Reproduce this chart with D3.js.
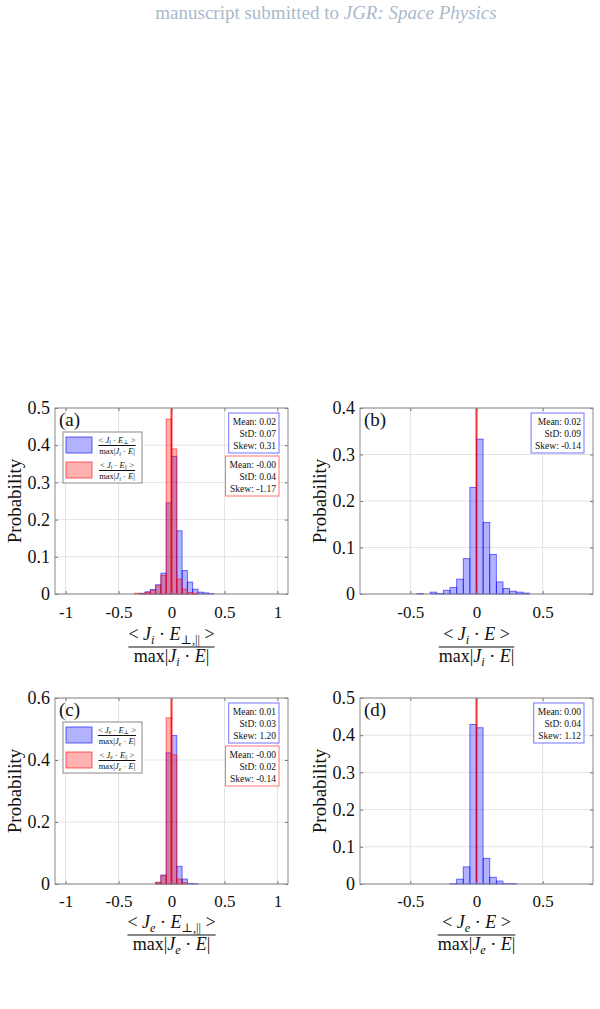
<!DOCTYPE html>
<html>
<head>
<meta charset="utf-8">
<script src="https://cdn.jsdelivr.net/npm/d3@7"></script>
<style>
  body { margin: 0; background: #fff; }
  svg text { font-family: "Liberation Serif", "DejaVu Serif", serif; fill: #111; }
</style>
</head>
<body>
<svg id="chart" width="600" height="1009"></svg>
<script>
// left edges of the histogram bins (bin width 0.05)
const binStarts = [-0.45, -0.40, -0.35, -0.30, -0.25, -0.20, -0.15, -0.10, -0.05, 0.00, 0.05, 0.10, 0.15, 0.20, 0.25, 0.30, 0.35]
const binWidth = 0.05

// probabilities
const ionPerp = [0, 0, 0, 0.002, 0.006, 0.012, 0.025, 0.056, 0.245, 0.370, 0.170, 0.063, 0.032, 0.013, 0.005, 0.003, 0.001]
const ionPar  = [0, 0, 0.002, 0.001, 0.004, 0.010, 0.022, 0.050, 0.470, 0.390, 0.040, 0.013, 0.004, 0.002, 0, 0, 0]
const ionTot  = [0.001, 0, 0.004, 0.001, 0.008, 0.014, 0.032, 0.076, 0.229, 0.333, 0.154, 0.085, 0.026, 0.012, 0.006, 0.004, 0.002]
const elePerp = [0, 0, 0, 0, 0, 0, 0.004, 0.029, 0.423, 0.479, 0.057, 0.016, 0.002, 0.001, 0, 0, 0]
const elePar  = [0, 0, 0, 0, 0, 0, 0.006, 0.027, 0.536, 0.417, 0.016, 0.004, 0, 0, 0, 0, 0]
const eleTot  = [0, 0, 0, 0, 0, 0.001, 0.013, 0.046, 0.429, 0.420, 0.069, 0.018, 0.008, 0.001, 0.001, 0, 0]

// stats text boxes
const statsIonPerp = ['Mean: 0.02', 'StD: 0.07', 'Skew: 0.31']
const statsIonPar  = ['Mean: -0.00', 'StD: 0.04', 'Skew: -1.17']
const statsIonTot  = ['Mean: 0.02', 'StD: 0.09', 'Skew: -0.14']
const statsElePerp = ['Mean: 0.01', 'StD: 0.03', 'Skew: 1.20']
const statsElePar  = ['Mean: -0.00', 'StD: 0.02', 'Skew: -0.14']
const statsEleTot  = ['Mean: 0.00', 'StD: 0.04', 'Skew: 1.12']

// tick labels
const xTicksWide = [-1, -0.5, 0, 0.5, 1]
const xTicksNarrow = [-0.5, 0, 0.5]
const yTicksA = [0, 0.1, 0.2, 0.3, 0.4, 0.5]
const yTicksB = [0, 0.1, 0.2, 0.3, 0.4]
const yTicksC = [0, 0.2, 0.4, 0.6]
const yTicksD = [0, 0.1, 0.2, 0.3, 0.4, 0.5]

const BLUE = '#0000ff', RED = '#ff0000'

// pieces of the math labels: [text, italic, subscript]
const frac = (s, lab) => ({
  num: [['< '], ['J', 1], [s, 1, 1], [' · '], ['E', 1], [lab, 0, 1], [' >']],
  den: [['max|'], ['J', 1], [s, 1, 1], [' · '], ['E', 1], ['|']]
})

const panels = [
  { tag: '(a)', x0: 55, y0: 408, xDom: [-1.1, 1.1], xTicks: xTicksWide, yTicks: yTicksA,
    series: [{ v: ionPerp, c: BLUE, stats: statsIonPerp }, { v: ionPar, c: RED, stats: statsIonPar }],
    xlabel: frac('i', '⊥,||'), legend: [frac('i', '⊥'), frac('i', '||')] },
  { tag: '(b)', x0: 360, y0: 408, xDom: [-0.88, 0.88], xTicks: xTicksNarrow, yTicks: yTicksB,
    series: [{ v: ionTot, c: BLUE, stats: statsIonTot }],
    xlabel: { num: [['< '], ['J', 1], ['i', 1, 1], [' · '], ['E', 1], [' >']], den: frac('i', '').den } },
  { tag: '(c)', x0: 55, y0: 698, xDom: [-1.1, 1.1], xTicks: xTicksWide, yTicks: yTicksC,
    series: [{ v: elePerp, c: BLUE, stats: statsElePerp }, { v: elePar, c: RED, stats: statsElePar }],
    xlabel: frac('e', '⊥,||'), legend: [frac('e', '⊥'), frac('e', '||')] },
  { tag: '(d)', x0: 360, y0: 698, xDom: [-0.88, 0.88], xTicks: xTicksNarrow, yTicks: yTicksD,
    series: [{ v: eleTot, c: BLUE, stats: statsEleTot }],
    xlabel: { num: [['< '], ['J', 1], ['e', 1, 1], [' · '], ['E', 1], [' >']], den: frac('e', '').den } }
]

const W = 233, H = 186

const svg = d3.select('#chart')

// page header
const head = svg.append('text')
  .attr('x', 326).attr('y', 19)
  .attr('text-anchor', 'middle')
  .style('font-size', '19px')
  .style('fill', '#a8bacb')
head.append('tspan').text('manuscript submitted to ').style('fill', '#a8bacb')
head.append('tspan').text('JGR: Space Physics').style('font-style', 'italic').style('fill', '#a8bacb')

// writes a math string (array of pieces) into a text element
function mathText(sel, parts, size) {
  let shifted = 0
  parts.forEach(p => {
    if (!p[0]) return
    const sub = !!p[2]
    const ts = sel.append('tspan').text(p[0])
    if (p[1]) ts.style('font-style', 'italic')
    const target = sub ? size * 0.2 : 0
    ts.attr('dy', target - shifted)
    shifted = target
    if (sub) ts.style('font-size', (size * 0.68) + 'px')
  })
}

function fraction(g, lab, size, gapTop, gapBot) {
  const num = g.append('text').attr('text-anchor', 'middle').attr('y', -gapTop).style('font-size', size + 'px')
  mathText(num, lab.num, size)
  const den = g.append('text').attr('text-anchor', 'middle').attr('y', gapBot).style('font-size', size + 'px')
  mathText(den, lab.den, size)
  const w = Math.max(num.node().getBBox().width, den.node().getBBox().width)
  g.append('line').attr('x1', -w / 2).attr('x2', w / 2)
    .attr('stroke', '#111').attr('stroke-width', 1)
}

panels.forEach((p, k) => {
  const g = svg.append('g').attr('transform', `translate(${p.x0}, ${p.y0})`)
  const x = d3.scaleLinear().domain(p.xDom).range([0, W])
  const yMax = p.yTicks[p.yTicks.length - 1]
  const y = d3.scaleLinear().domain([0, yMax]).range([H, 0])

  // grid
  g.append('g').selectAll('line').data(p.xTicks).join('line')
    .attr('x1', d => x(d)).attr('x2', d => x(d)).attr('y1', 0).attr('y2', H)
    .attr('stroke', '#e3e3e3')
  g.append('g').selectAll('line').data(p.yTicks).join('line')
    .attr('y1', d => y(d)).attr('y2', d => y(d)).attr('x1', 0).attr('x2', W)
    .attr('stroke', '#e3e3e3')

  // histogram bars
  p.series.forEach(s => {
    const bins = binStarts.map((b, i) => ({ b, v: s.v[i] })).filter(d => d.v > 0)
    g.append('g').selectAll('rect').data(bins).join('rect')
      .attr('x', d => x(d.b))
      .attr('width', d => x(d.b + binWidth) - x(d.b))
      .attr('y', d => y(d.v))
      .attr('height', d => H - y(d.v))
      .attr('fill', s.c).attr('fill-opacity', 0.3)
      .attr('stroke', s.c).attr('stroke-opacity', 0.6).attr('stroke-width', 0.9)
  })

  // zero line
  g.append('line').attr('x1', x(0)).attr('x2', x(0)).attr('y1', 0).attr('y2', H)
    .attr('stroke', RED).attr('stroke-opacity', 0.8).attr('stroke-width', 2)

  // axes
  const xAxis = g.append('g').attr('transform', `translate(0, ${H})`)
    .call(d3.axisBottom(x).tickValues(p.xTicks).tickSize(-3).tickPadding(k < 2 ? 12 : 11).tickFormat(d => String(d)))
  const yAxis = g.append('g')
    .call(d3.axisLeft(y).tickValues(p.yTicks).tickSize(-3).tickPadding(5).tickFormat(d => String(+d.toFixed(1))))
  g.append('g')
    .call(d3.axisTop(x).tickValues(p.xTicks).tickSize(-3).tickFormat(''))
  g.append('g').attr('transform', `translate(${W}, 0)`)
    .call(d3.axisRight(y).tickValues(p.yTicks).tickSize(-3).tickFormat(''))
  g.selectAll('.domain').remove()
  g.selectAll('.tick line').attr('stroke', '#777')
  xAxis.selectAll('text').style('font-size', '17px').attr('fill', '#111')
  yAxis.selectAll('text').style('font-size', '18px').attr('fill', '#111')
  g.selectAll('.tick text').attr('font-family', null)

  g.append('rect').attr('width', W).attr('height', H)
    .attr('fill', 'none').attr('stroke', '#8a8a8a').attr('stroke-width', 1)

  // labels
  g.append('text').attr('transform', `translate(-34, ${H / 2}) rotate(-90)`)
    .attr('text-anchor', 'middle').style('font-size', '19px').text('Probability')
  g.append('text').attr('x', 4).attr('y', 18).style('font-size', '19px').text(p.tag)
  fraction(g.append('g').attr('transform', `translate(${W / 2}, ${H + (k < 2 ? 53 : 51)})`), p.xlabel, 18, 7, 15)

  // stats boxes
  let top = 5
  p.series.forEach(s => {
    const box = g.append('g')
    const t = box.append('text').attr('text-anchor', 'end').style('font-size', '9.5px')
    s.stats.forEach((line, i) => {
      t.append('tspan').attr('x', W - 12).attr('y', top + 12 + i * 12).text(line)
    })
    const bb = t.node().getBBox()
    box.insert('rect', 'text')
      .attr('x', bb.x - 4).attr('y', top)
      .attr('width', W - 9 - (bb.x - 4)).attr('height', 40)
      .attr('fill', '#fff').attr('stroke', s.c).attr('stroke-opacity', 0.55)
    top += 43
  })

  // legend
  if (p.legend) {
    const lg = g.append('g').attr('transform', 'translate(8, 24)')
    lg.append('rect').attr('width', 79).attr('height', 51)
      .attr('fill', '#fff').attr('stroke', '#8a8a8a')
    p.legend.forEach((lab, i) => {
      const s = p.series[i]
      lg.append('rect').attr('x', 3).attr('y', 5 + i * 25).attr('width', 26).attr('height', 16)
        .attr('fill', s.c).attr('fill-opacity', 0.3)
        .attr('stroke', s.c).attr('stroke-opacity', 0.6)
      fraction(lg.append('g').attr('transform', `translate(54, ${13.5 + i * 25})`), lab, 8.5, 3, 8.5)
    })
  }
})
</script>
</body>
</html>
